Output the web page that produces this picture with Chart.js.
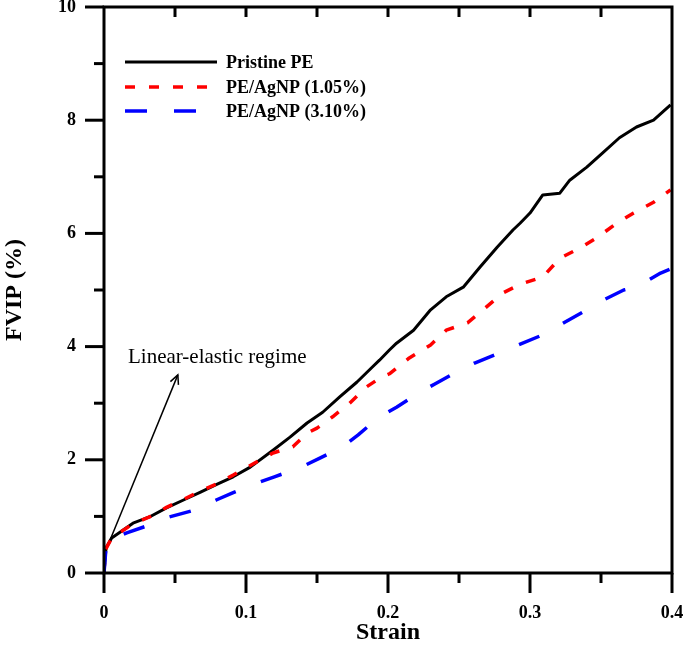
<!DOCTYPE html>
<html><head><meta charset="utf-8">
<script src="https://cdn.jsdelivr.net/npm/chart.js@4"></script>
<style>html,body{margin:0;padding:0;background:#fff;} #wrap{width:685px;height:647px;}</style>
</head><body><div id="wrap"><canvas id="c" width="685" height="647"></canvas></div>
<script>
// ---- data ----
const xTickValues = [0, 0.1, 0.2, 0.3, 0.4];
const yTickValues = [0, 2, 4, 6, 8, 10];
const seriesNames = ['Pristine PE', 'PE/AgNP (1.05%)', 'PE/AgNP (3.10%)'];

const pristineStrain = [0, 0.0014, 0.0054, 0.0204, 0.032, 0.044, 0.056, 0.068, 0.079, 0.091, 0.103, 0.119, 0.131, 0.143, 0.154, 0.166, 0.178, 0.189, 0.194, 0.201, 0.206, 0.218, 0.230, 0.241, 0.253, 0.265, 0.277, 0.288, 0.293, 0.300, 0.309, 0.321, 0.328, 0.340, 0.351, 0.363, 0.375, 0.387, 0.399];
const pristineFvip   = [0, 0.44, 0.62, 0.88, 0.99, 1.15, 1.29, 1.43, 1.56, 1.70, 1.87, 2.17, 2.40, 2.65, 2.84, 3.11, 3.37, 3.64, 3.76, 3.94, 4.06, 4.29, 4.65, 4.88, 5.05, 5.41, 5.76, 6.06, 6.18, 6.36, 6.68, 6.71, 6.94, 7.17, 7.42, 7.69, 7.88, 8.00, 8.27];

const agnp105Strain = [0, 0.0008, 0.0054, 0.0204, 0.032, 0.044, 0.056, 0.068, 0.079, 0.091, 0.103, 0.119, 0.133, 0.143, 0.150, 0.161, 0.173, 0.185, 0.194, 0.201, 0.215, 0.230, 0.241, 0.256, 0.267, 0.281, 0.293, 0.309, 0.321, 0.335, 0.347, 0.361, 0.373, 0.387, 0.399];
const agnp105Fvip   = [0, 0.40, 0.62, 0.87, 0.99, 1.16, 1.30, 1.45, 1.57, 1.73, 1.90, 2.12, 2.23, 2.47, 2.56, 2.76, 3.00, 3.29, 3.44, 3.52, 3.80, 4.03, 4.29, 4.42, 4.65, 4.95, 5.10, 5.23, 5.56, 5.74, 5.92, 6.18, 6.36, 6.55, 6.77];

const agnp310Strain = [0, 0.0014, 0.004, 0.016, 0.030, 0.046, 0.062, 0.079, 0.091, 0.108, 0.120, 0.138, 0.152, 0.168, 0.179, 0.194, 0.206, 0.223, 0.233, 0.251, 0.261, 0.279, 0.292, 0.312, 0.321, 0.340, 0.349, 0.366, 0.375, 0.392, 0.399];
const agnp310Fvip   = [0, 0.44, 0.58, 0.71, 0.83, 0.99, 1.10, 1.29, 1.42, 1.59, 1.70, 1.86, 2.03, 2.23, 2.44, 2.76, 2.93, 3.20, 3.34, 3.59, 3.71, 3.89, 4.03, 4.24, 4.38, 4.65, 4.79, 5.00, 5.05, 5.30, 5.37];

const annotationText = 'Linear-elastic regime';
const arrowFrom = [0.0042, 0.58];
const arrowTo = [0.052, 3.50];
const annotationAt = [0.0169, 3.80];

const toXY = (xs, ys) => xs.map((x, i) => ({x: x, y: ys[i]}));
const SERIF = '"Liberation Serif", "Times New Roman", serif';

const styles = [
  {color: '#000000', dash: [], width: 3},
  {color: '#ff0000', dash: [10, 14], width: 3.5},
  {color: '#0000ff', dash: [22, 27], width: 3.5}
];

function zeroPad(s) { s.paddingLeft = 0; s.paddingRight = 0; s.paddingTop = 0; s.paddingBottom = 0; }

const decor = {
  id: 'decor',
  afterDraw(chart) {
    const ctx = chart.ctx, a = chart.chartArea;
    const xs = chart.scales.x, ys = chart.scales.y;
    ctx.save();
    ctx.strokeStyle = '#000'; ctx.lineWidth = 3; ctx.lineCap = 'butt';
    ctx.strokeRect(a.left, a.top, a.right - a.left, a.bottom - a.top);
    for (let v = 0; v <= 10; v += 1) {
      const py = ys.getPixelForValue(v);
      const len = (v % 2 === 0) ? 19 : 10;
      ctx.beginPath(); ctx.moveTo(a.left - len, py); ctx.lineTo(a.left, py); ctx.stroke();
    }
    for (let k = 0; k <= 8; k++) {
      const v = k * 0.05;
      const px = xs.getPixelForValue(v);
      const len = (k % 2 === 0) ? 20 : 10;
      ctx.beginPath(); ctx.moveTo(px, a.bottom); ctx.lineTo(px, a.bottom + len); ctx.stroke();
      if (k > 0 && k < 8) {
        ctx.beginPath(); ctx.moveTo(px, a.top); ctx.lineTo(px, a.top + 10); ctx.stroke();
      }
    }
    const legY = [62, 87, 111];
    ctx.font = 'bold 18px ' + SERIF;
    ctx.textBaseline = 'middle'; ctx.textAlign = 'left';
    seriesNames.forEach((name, i) => {
      const s = styles[i];
      ctx.strokeStyle = s.color; ctx.lineWidth = s.width; ctx.setLineDash(s.dash);
      ctx.beginPath(); ctx.moveTo(125, legY[i]); ctx.lineTo(217, legY[i]); ctx.stroke();
      ctx.setLineDash([]);
      ctx.fillStyle = '#000';
      ctx.fillText(name, 226, legY[i] + 1);
    });
    const x0 = xs.getPixelForValue(arrowFrom[0]), y0 = ys.getPixelForValue(arrowFrom[1]);
    const x1 = xs.getPixelForValue(arrowTo[0]), y1 = ys.getPixelForValue(arrowTo[1]);
    ctx.strokeStyle = '#000'; ctx.lineWidth = 1.5;
    ctx.beginPath(); ctx.moveTo(x0, y0); ctx.lineTo(x1, y1); ctx.stroke();
    const ang = Math.atan2(y1 - y0, x1 - x0);
    ctx.beginPath();
    ctx.moveTo(x1 - 10 * Math.cos(ang - 0.45), y1 - 10 * Math.sin(ang - 0.45));
    ctx.lineTo(x1, y1);
    ctx.lineTo(x1 - 10 * Math.cos(ang + 0.45), y1 - 10 * Math.sin(ang + 0.45));
    ctx.stroke();
    ctx.font = '21px ' + SERIF; ctx.fillStyle = '#000';
    ctx.textBaseline = 'middle';
    ctx.fillText(annotationText, xs.getPixelForValue(annotationAt[0]), ys.getPixelForValue(annotationAt[1]));
    ctx.restore();
  }
};

new Chart(document.getElementById('c'), {
  type: 'line',
  data: {
    datasets: [
      {label: seriesNames[0], data: toXY(pristineStrain, pristineFvip), borderColor: styles[0].color, borderWidth: styles[0].width, borderDash: styles[0].dash, order: 3},
      {label: seriesNames[1], data: toXY(agnp105Strain, agnp105Fvip), borderColor: styles[1].color, borderWidth: styles[1].width, borderDash: styles[1].dash, order: 2},
      {label: seriesNames[2], data: toXY(agnp310Strain, agnp310Fvip), borderColor: styles[2].color, borderWidth: styles[2].width, borderDash: styles[2].dash, order: 1}
    ]
  },
  options: {
    responsive: false, animation: false, devicePixelRatio: 1,
    elements: {point: {radius: 0}, line: {tension: 0, fill: false, borderJoinStyle: 'round'}},
    layout: {padding: {left: 0, top: 7, right: 13, bottom: 0}},
    plugins: {legend: {display: false}, tooltip: {enabled: false}},
    scales: {
      x: {
        type: 'linear', min: 0, max: 0.4,
        afterBuildTicks(s) { s.ticks = xTickValues.map(v => ({value: v})); },
        afterFit(s) { s.height = 74; zeroPad(s); },
        grid: {display: false, drawTicks: false}, border: {display: false},
        ticks: {padding: 30, color: '#000', font: {family: SERIF, size: 18, weight: 'bold'}, callback: v => String(v)},
        title: {display: true, text: 'Strain', color: '#000', font: {family: SERIF, size: 24, weight: 'bold'}, padding: {top: 0, bottom: 0}}
      },
      y: {
        type: 'linear', min: 0, max: 10,
        afterBuildTicks(s) { s.ticks = yTickValues.map(v => ({value: v})); },
        afterFit(s) { s.width = 104; zeroPad(s); },
        grid: {display: false, drawTicks: false}, border: {display: false},
        ticks: {padding: 28, color: '#000', font: {family: SERIF, size: 18, weight: 'bold'}, callback: v => String(v)},
        title: {display: true, text: 'FVIP (%)', color: '#000', font: {family: SERIF, size: 24, weight: 'bold'}, padding: {top: 0, bottom: 0}}
      }
    }
  },
  plugins: [decor]
});
</script></body></html>
